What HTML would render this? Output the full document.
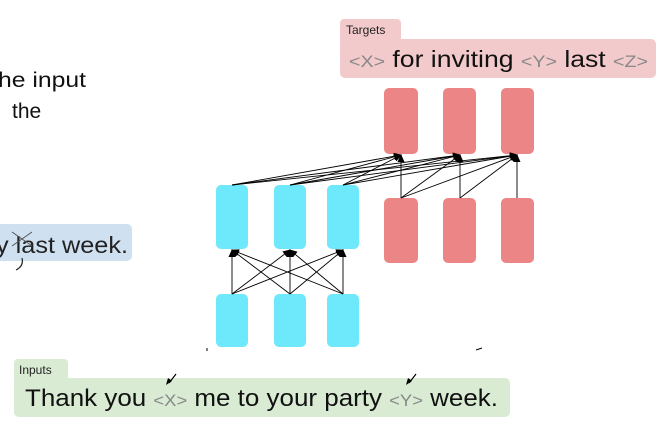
<!DOCTYPE html>
<html><head><style>
html,body{margin:0;padding:0;background:#fff;width:671px;height:437px;overflow:hidden}
svg{display:block}
</style></head><body>
<svg width="671" height="437" viewBox="0 0 671 437" xmlns="http://www.w3.org/2000/svg">
<defs>
<marker id="a" markerWidth="8" markerHeight="8" refX="7" refY="4" orient="auto" markerUnits="userSpaceOnUse">
<path d="M0,0.5 L8,4 L0,7.5 Z" fill="#000"/>
</marker>
</defs>
<!-- left text -->
<text x="-2" y="87" font-family="Liberation Sans, sans-serif" font-size="21" fill="#111" textLength="88" lengthAdjust="spacingAndGlyphs">he input</text>
<text x="12" y="118" font-family="Liberation Sans, sans-serif" font-size="21" fill="#111">the</text>
<rect x="-10" y="224" width="142" height="37" rx="5" fill="#cfe0f1"/>
<text x="-4" y="253" font-family="Liberation Sans, sans-serif" font-size="23" fill="#222" textLength="132" lengthAdjust="spacingAndGlyphs">y last week.</text>
<path d="M12,246 L32,232 M12,232 L32,246" stroke="#555" stroke-width="1"/>
<path d="M22,258 Q24,266 16,270" stroke="#222" fill="none" stroke-width="1.2"/>

<!-- Targets -->
<rect x="340" y="19" width="61" height="26" rx="4" fill="#f3cacc"/>
<rect x="340" y="39" width="316" height="39" rx="5" fill="#f3cacc"/>
<text x="346" y="34" font-family="Liberation Sans, sans-serif" font-size="12" fill="#222">Targets</text>
<text x="349" y="67" font-family="Liberation Sans, sans-serif" font-size="23" fill="#111" textLength="299" lengthAdjust="spacingAndGlyphs"><tspan fill="#888" font-size="17">&lt;X&gt;</tspan> for inviting <tspan fill="#888" font-size="17">&lt;Y&gt;</tspan> last <tspan fill="#888" font-size="17">&lt;Z&gt;</tspan></text>

<!-- red boxes -->
<g fill="#ec8686">
<rect x="384" y="88" width="34" height="66" rx="5"/>
<rect x="443" y="88" width="33" height="66" rx="5"/>
<rect x="501" y="88" width="33" height="66" rx="5"/>
<rect x="384" y="198" width="34" height="65" rx="5"/>
<rect x="443" y="198" width="33" height="65" rx="5"/>
<rect x="501" y="198" width="33" height="65" rx="5"/>
</g>
<!-- cyan boxes -->
<g fill="#6ee8fb">
<rect x="216" y="185" width="32" height="64" rx="5"/>
<rect x="274" y="185" width="32" height="64" rx="5"/>
<rect x="327" y="185" width="32" height="64" rx="5"/>
<rect x="216" y="294" width="32" height="53" rx="5"/>
<rect x="274" y="294" width="32" height="53" rx="5"/>
<rect x="327" y="294" width="32" height="53" rx="5"/>
</g>
<rect x="210" y="347" width="160" height="8" fill="#fff"/>

<!-- arrows -->
<g stroke="#000" stroke-width="0.9" fill="none" marker-end="url(#a)">
<line x1="232" y1="294" x2="232" y2="250"/><line x1="232" y1="294" x2="290" y2="250"/><line x1="232" y1="294" x2="343" y2="250"/>
<line x1="290" y1="294" x2="232" y2="250"/><line x1="290" y1="294" x2="290" y2="250"/><line x1="290" y1="294" x2="343" y2="250"/>
<line x1="343" y1="294" x2="232" y2="250"/><line x1="343" y1="294" x2="290" y2="250"/><line x1="343" y1="294" x2="343" y2="250"/>
<line x1="232" y1="185" x2="401" y2="155"/><line x1="232" y1="185" x2="460" y2="155"/><line x1="232" y1="185" x2="517" y2="155"/>
<line x1="290" y1="185" x2="401" y2="155"/><line x1="290" y1="185" x2="460" y2="155"/><line x1="290" y1="185" x2="517" y2="155"/>
<line x1="343" y1="185" x2="401" y2="155"/><line x1="343" y1="185" x2="460" y2="155"/><line x1="343" y1="185" x2="517" y2="155"/>
<line x1="401" y1="198" x2="401" y2="155"/><line x1="401" y1="198" x2="460" y2="155"/><line x1="401" y1="198" x2="517" y2="155"/>
<line x1="460" y1="198" x2="460" y2="155"/><line x1="460" y1="198" x2="517" y2="155"/>
<line x1="517" y1="198" x2="517" y2="155"/>
</g>
<path d="M207,348 L207,351 M476,350 L482,348" stroke="#000" stroke-width="1"/>

<!-- Inputs -->
<rect x="14" y="359" width="54" height="24" rx="4" fill="#d9ebd3"/>
<rect x="14" y="378" width="496" height="39" rx="5" fill="#d9ebd3"/>
<text x="19" y="374" font-family="Liberation Sans, sans-serif" font-size="12" fill="#222">Inputs</text>
<text x="25" y="406" font-family="Liberation Sans, sans-serif" font-size="24" fill="#111" textLength="473" lengthAdjust="spacingAndGlyphs">Thank you <tspan fill="#888" font-size="17">&lt;X&gt;</tspan> me to your party <tspan fill="#888" font-size="17">&lt;Y&gt;</tspan> week.</text>
<path d="M176,374 L169,383" stroke="#000" stroke-width="1.2"/>
<path d="M166,385 L168,378 L172,381 Z" fill="#000"/>
<path d="M416,374 L409,383" stroke="#000" stroke-width="1.2"/>
<path d="M406,385 L408,378 L412,381 Z" fill="#000"/>
</svg>
</body></html>
